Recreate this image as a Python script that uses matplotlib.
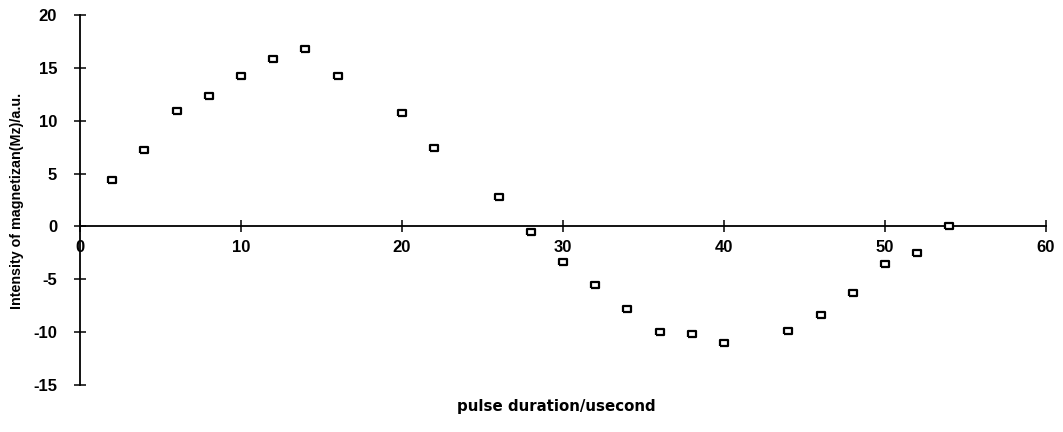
import matplotlib
matplotlib.use('Agg')
import matplotlib.pyplot as plt

plt.rcParams.update({
    "font.family": ["Liberation Sans", "DejaVu Sans"],
    "font.weight": "bold",
})

# pulse duration (usecond) and Mz intensity (a.u.)
pulse = [2, 4, 6, 8, 10, 12, 14, 16, 20, 22, 26, 28, 30, 32, 34, 36, 38, 40, 44, 46, 48, 50, 52, 54]
mz = [4.4, 7.2, 10.9, 12.3, 14.2, 15.8, 16.8, 14.2, 10.7, 7.4, 2.8, -0.5, -3.4, -5.5, -7.8, -10.0,
      -10.2, -11.0, -9.9, -8.4, -6.3, -3.6, -2.5, 0.0]
xticks = [0, 10, 20, 30, 40, 50, 60]
yticks = [20, 15, 10, 5, 0, -5, -10, -15]

# slightly flattened open box marker, as in the scanned figure
box = [(-1.25, -0.9), (1.25, -0.9), (1.25, 0.9), (-1.25, 0.9), (-1.25, -0.9)]

fig = plt.figure(figsize=(10.63, 4.32), dpi=100)
ax = fig.add_axes([0.0753, 0.109, 0.9087, 0.856])

ax.plot(pulse, mz, linestyle='none', marker=box, markersize=5.8,
        markerfacecolor='white', markeredgecolor='black', markeredgewidth=1.6, zorder=4)

ax.set_xlim(0, 60)
ax.set_ylim(-15, 20)
ax.set_xticks(xticks)
ax.set_yticks(yticks)
ax.set_yticklabels([str(v) for v in yticks])

ax.spines['top'].set_visible(False)
ax.spines['right'].set_visible(False)
ax.spines['bottom'].set_position(('data', 0))
ax.spines['left'].set_position(('data', 0))
for s in ('bottom', 'left'):
    ax.spines[s].set_linewidth(1.3)
    ax.spines[s].set_color('black')
    ax.spines[s].set_clip_on(False)

ax.tick_params(axis='both', direction='inout', length=9, width=1.1, colors='black',
               labelsize=12)
ax.tick_params(axis='x', pad=5)
ax.tick_params(axis='y', pad=12)
for lab in ax.get_xticklabels() + ax.get_yticklabels():
    lab.set_fontweight('bold')

fig.text(0.523, 0.058, 'pulse duration/usecond', ha='center', va='center',
         fontsize=10.8, fontweight='bold', family='DejaVu Sans')
fig.text(0.016, 0.535, 'Intensity of magnetizan(Mz)/a.u.', ha='center', va='center',
         rotation=90, fontsize=10.3, fontweight='bold')

fig.savefig('out.png', dpi=100)
